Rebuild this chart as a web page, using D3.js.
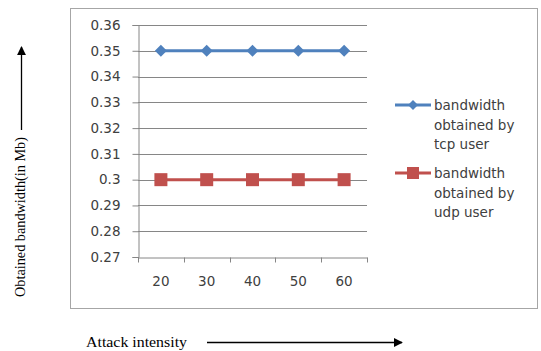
<!DOCTYPE html>
<html>
<head>
<meta charset="utf-8">
<script src="https://cdn.jsdelivr.net/npm/d3@7"></script>
<style>
  html, body { margin: 0; padding: 0; background: #fff; }
  svg { display: block; }
</style>
</head>
<body>
<svg id="chart" width="541" height="351"></svg>
<script>
// Attack intensity categories and bandwidth obtained (Mb) per user type
const categories = ["20", "30", "40", "50", "60"];
const tcpBandwidth = [0.35, 0.35, 0.35, 0.35, 0.35];
const udpBandwidth = [0.30, 0.30, 0.30, 0.30, 0.30];
const yTicks = [0.27, 0.28, 0.29, 0.30, 0.31, 0.32, 0.33, 0.34, 0.35, 0.36];
const seriesNames = [
  ["bandwidth", "obtained by", "tcp user"],
  ["bandwidth", "obtained by", "udp user"]
];

const svg = d3.select("#chart");
const sansFont = "'DejaVu Sans', Verdana, sans-serif";
const serifFont = "'Liberation Serif', 'DejaVu Serif', serif";
const axisGrey = "#868686";
const textColor = "#404040";
const labelSize = 13.5;

// Chart frame
svg.append("rect")
  .attr("x", 70.5).attr("y", 8.5)
  .attr("width", 467).attr("height", 300)
  .attr("fill", "#fff").attr("stroke", "#a6a6a6").attr("stroke-width", 1);

const plot = { left: 138, right: 367, top: 25, bottom: 257 };

const x = d3.scaleBand().domain(categories).range([plot.left, plot.right]);
const y = d3.scaleLinear().domain([0.27, 0.36]).range([plot.bottom, plot.top]);

// Horizontal gridlines
svg.append("g")
  .selectAll("line")
  .data(yTicks.slice(1))
  .join("line")
  .attr("x1", plot.left).attr("x2", plot.right)
  .attr("y1", d => Math.round(y(d)) + 0.5).attr("y2", d => Math.round(y(d)) + 0.5)
  .attr("stroke", axisGrey).attr("stroke-width", 1);

// Y axis
const yAxis = svg.append("g")
  .attr("transform", `translate(${plot.left + 0.5},0)`)
  .call(d3.axisLeft(y).tickValues(yTicks).tickSize(6).tickPadding(12)
    .tickFormat(d => d3.format("")(+d.toFixed(2))));
yAxis.select(".domain").attr("stroke", axisGrey);
yAxis.selectAll(".tick line").attr("stroke", axisGrey);
yAxis.selectAll(".tick text")
  .attr("fill", textColor).attr("font-family", sansFont).attr("font-size", labelSize);

// X axis
const xAxis = svg.append("g")
  .attr("transform", `translate(0,${plot.bottom + 0.5})`)
  .call(d3.axisBottom(x).tickSize(0).tickPadding(19));
xAxis.select(".domain").attr("stroke", axisGrey);
xAxis.selectAll(".tick text")
  .attr("fill", textColor).attr("font-family", sansFont).attr("font-size", labelSize);
// Tick marks between categories
xAxis.append("g")
  .selectAll("line")
  .data(d3.range(categories.length + 1))
  .join("line")
  .attr("x1", i => Math.round(plot.left + i * x.step()) + 0.5)
  .attr("x2", i => Math.round(plot.left + i * x.step()) + 0.5)
  .attr("y1", 0).attr("y2", 5)
  .attr("stroke", axisGrey);

// Series
const series = [
  { values: tcpBandwidth, color: "#4f81bd", marker: "diamond" },
  { values: udpBandwidth, color: "#c0504d", marker: "square" }
];

const line = d3.line()
  .x((d, i) => x(categories[i]) + x.bandwidth() / 2)
  .y(d => y(d));

function drawMarker(g, type, color) {
  if (type === "diamond") {
    g.append("path").attr("d", "M0,-6L6,0L0,6L-6,0Z").attr("fill", color);
  } else {
    g.append("rect").attr("x", -6.5).attr("y", -6.5).attr("width", 13).attr("height", 13)
      .attr("fill", color);
  }
}

series.forEach(s => {
  svg.append("path")
    .datum(s.values)
    .attr("d", line)
    .attr("fill", "none")
    .attr("stroke", s.color)
    .attr("stroke-width", 3);
  s.values.forEach((v, i) => {
    const g = svg.append("g")
      .attr("transform", `translate(${x(categories[i]) + x.bandwidth() / 2},${y(v)})`);
    drawMarker(g, s.marker, s.color);
  });
});

// Legend
const legendTops = [105, 173];
series.forEach((s, k) => {
  const ly = legendTops[k];
  const g = svg.append("g");
  g.append("line")
    .attr("x1", 395).attr("x2", 431).attr("y1", ly).attr("y2", ly)
    .attr("stroke", s.color).attr("stroke-width", 3);
  const m = g.append("g").attr("transform", `translate(413,${ly})`);
  if (s.marker === "diamond") {
    m.append("path").attr("d", "M0,-5L5,0L0,5L-5,0Z").attr("fill", s.color);
  } else {
    m.append("rect").attr("x", -6).attr("y", -6).attr("width", 12).attr("height", 12).attr("fill", s.color);
  }
  g.append("text")
    .attr("x", 434).attr("y", ly + 5)
    .attr("fill", textColor).attr("font-family", sansFont).attr("font-size", labelSize)
    .selectAll("tspan")
    .data(seriesNames[k])
    .join("tspan")
    .attr("x", 434)
    .attr("dy", (d, i) => i === 0 ? 0 : 19.5)
    .text(d => d);
});

// Axis titles with arrows
const defs = svg.append("defs");
defs.append("marker")
  .attr("id", "arrow")
  .attr("viewBox", "0 0 10 10")
  .attr("refX", 9).attr("refY", 5)
  .attr("markerWidth", 9).attr("markerHeight", 9)
  .attr("markerUnits", "userSpaceOnUse")
  .attr("orient", "auto")
  .append("path").attr("d", "M0,0L10,5L0,10Z").attr("fill", "#000");

svg.append("text")
  .attr("transform", "translate(25,217) rotate(-90)")
  .attr("text-anchor", "middle")
  .attr("font-family", serifFont).attr("font-size", 14)
  .attr("textLength", 160).attr("lengthAdjust", "spacingAndGlyphs")
  .attr("fill", "#000")
  .text("Obtained bandwidth(in Mb)");

svg.append("line")
  .attr("x1", 21.5).attr("x2", 21.5).attr("y1", 130).attr("y2", 47)
  .attr("stroke", "#000").attr("stroke-width", 1.3)
  .attr("marker-end", "url(#arrow)");

svg.append("text")
  .attr("x", 86).attr("y", 347)
  .attr("font-family", serifFont).attr("font-size", 15)
  .attr("textLength", 101).attr("lengthAdjust", "spacingAndGlyphs")
  .attr("fill", "#000")
  .text("Attack intensity");

svg.append("line")
  .attr("x1", 207).attr("x2", 402).attr("y1", 342.5).attr("y2", 342.5)
  .attr("stroke", "#000").attr("stroke-width", 1.3)
  .attr("marker-end", "url(#arrow)");
</script>
</body>
</html>
